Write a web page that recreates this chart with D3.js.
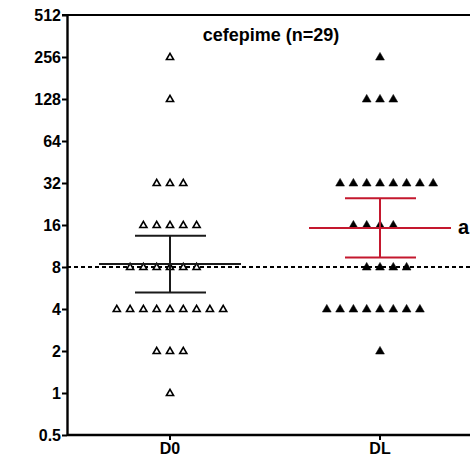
<!DOCTYPE html>
<html>
<head>
<meta charset="utf-8">
<script src="https://cdn.jsdelivr.net/npm/d3@7"></script>
<style>
  html, body { margin: 0; padding: 0; background: #fff; }
  svg { display: block; font-family: "Liberation Sans", Arial, sans-serif; }
  .axis text { font-family: "Liberation Sans", Arial, sans-serif; font-size: 16px; font-weight: bold; fill: #000; }
</style>
</head>
<body>
<svg id="chart" width="470" height="460"></svg>
<script>
// MIC values (mg/L) per isolate, cefepime
const categories = ["D0", "DL"];
const d0Values = [256, 128, 32, 32, 32, 16, 16, 16, 16, 16,
                  8, 8, 8, 8, 8, 8, 4, 4, 4, 4, 4, 4, 4, 4, 4,
                  2, 2, 2, 1];
const dlValues = [256, 128, 128, 128, 32, 32, 32, 32, 32, 32, 32, 32,
                  16, 16, 16, 16, 8, 8, 8, 8, 4, 4, 4, 4, 4, 4, 4, 4, 2];
const yTickValues = [0.5, 1, 2, 4, 8, 16, 32, 64, 128, 256, 512];
const breakpoint = 8;
const significance = "a";
const tCrit = 2.048; // two-sided 95%, df = 28

const svg = d3.select("#chart");
const plotL = 67, plotR = 470, plotT = 15, plotB = 435;

const y = d3.scaleLog().base(2).domain([0.5, 512]).range([plotB, plotT]);
const x = d3.scaleBand().domain(categories).range([65, 485]);
const cx = c => x(c) + x.bandwidth() / 2;

const groups = [
  { name: "D0", values: d0Values, filled: false, barColor: "#1a1a1a", firstShift: -1 },
  { name: "DL", values: dlValues, filled: true, barColor: "#c4182e", firstShift: 1 }
];

// frame top line
svg.append("line")
  .attr("x1", plotL - 5).attr("x2", plotR)
  .attr("y1", plotT).attr("y2", plotT)
  .attr("stroke", "#000").attr("stroke-width", 2.2);

// y axis
const yAxis = svg.append("g")
  .attr("class", "axis")
  .attr("transform", `translate(${plotL},0)`)
  .call(d3.axisLeft(y).tickValues(yTickValues).tickFormat(d => String(d)).tickSize(5).tickSizeOuter(0));
yAxis.select(".domain").attr("stroke-width", 2.4);
yAxis.selectAll(".tick line").attr("stroke-width", 2);
yAxis.selectAll(".tick text").attr("x", -6);

// x axis
const xAxis = svg.append("g")
  .attr("class", "axis")
  .attr("transform", `translate(0,${plotB})`)
  .call(d3.axisBottom(x).tickSize(5).tickSizeOuter(0));
xAxis.select(".domain").attr("d", `M${plotL},0H${plotR}`).attr("stroke-width", 2.4);
xAxis.selectAll(".tick line").attr("stroke-width", 2);
xAxis.selectAll(".tick text").attr("y", 8);

// breakpoint reference line
svg.append("line")
  .attr("x1", plotL).attr("x2", plotR)
  .attr("y1", y(breakpoint)).attr("y2", y(breakpoint))
  .attr("stroke", "#000").attr("stroke-width", 2)
  .attr("stroke-dasharray", "4,3");

// title
svg.append("text")
  .attr("x", 271).attr("y", 41)
  .attr("text-anchor", "middle")
  .style("font-size", "18px").style("font-weight", "bold")
  .text(`cefepime (n=${d0Values.length})`);

// geometric mean with 95% CI
function geoStats(values) {
  const logs = values.map(v => Math.log2(v));
  const m = d3.mean(logs);
  const se = d3.deviation(logs) / Math.sqrt(logs.length);
  return { mean: 2 ** m, lo: 2 ** (m - tCrit * se), hi: 2 ** (m + tCrit * se) };
}

const step = 13.3;
const tri = d3.symbol().type(d3.symbolTriangle);

groups.forEach(g => {
  const c = cx(g.name);
  const layer = svg.append("g");

  // dot layout: rows of equal values spread horizontally
  const rows = d3.groups(g.values, v => v).sort((a, b) => b[0] - a[0]);
  let evenIdx = 0;
  const pts = [];
  rows.forEach(([v, arr]) => {
    const n = arr.length;
    let shift = 0;
    if (n % 2 === 0) {
      shift = (evenIdx % 2 === 0 ? g.firstShift : -g.firstShift) * step / 2;
      evenIdx++;
    }
    arr.forEach((_, i) => pts.push({ v, x: c + (i - (n - 1) / 2) * step + shift }));
  });

  layer.selectAll("path.pt").data(pts).join("path")
    .attr("class", "pt")
    .attr("d", tri.size(g.filled ? 34 : 22))
    .attr("transform", d => `translate(${d.x},${y(d.v) + 0.5})`)
    .attr("fill", g.filled ? "#000" : "#fff")
    .attr("stroke", "#000")
    .attr("stroke-width", g.filled ? 0.5 : 1.6);

  const s = geoStats(g.values);
  const bars = svg.append("g").attr("stroke", g.barColor).attr("stroke-width", 2);
  bars.append("line").attr("x1", c - 71).attr("x2", c + 71)
    .attr("y1", y(s.mean)).attr("y2", y(s.mean));
  bars.append("line").attr("x1", c).attr("x2", c)
    .attr("y1", y(s.lo)).attr("y2", y(s.hi));
  bars.append("line").attr("x1", c - 35).attr("x2", c + 36)
    .attr("y1", y(s.hi)).attr("y2", y(s.hi));
  bars.append("line").attr("x1", c - 35).attr("x2", c + 36)
    .attr("y1", y(s.lo)).attr("y2", y(s.lo));

  if (g.name === "DL") {
    svg.append("text")
      .attr("x", c + 78).attr("y", y(s.mean) + 6)
      .style("font-size", "20px").style("font-weight", "bold")
      .text(significance);
  }
});
</script>
</body>
</html>
